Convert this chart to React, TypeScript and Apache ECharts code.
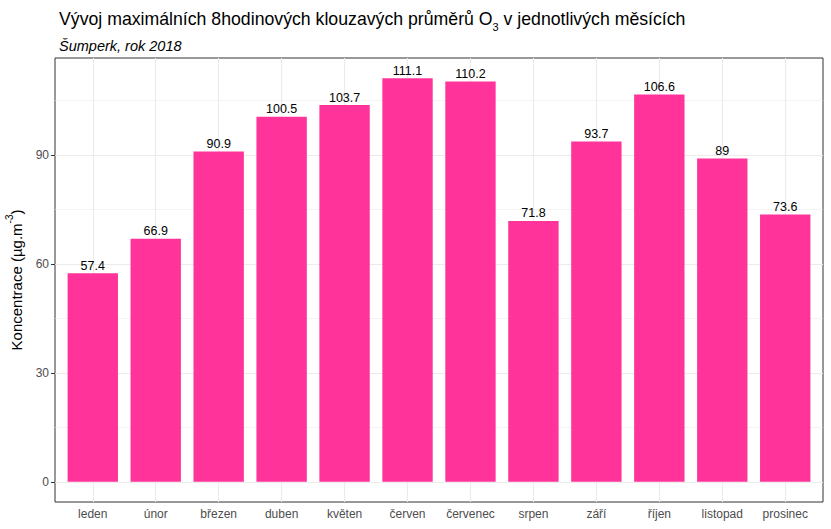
import React, { useEffect, useRef } from "react";
import * as echarts from "echarts";

const months = ["leden", "únor", "březen", "duben", "květen", "červen", "červenec", "srpen", "září", "říjen", "listopad", "prosinec"];
const values = [57.4, 66.9, 90.9, 100.5, 103.7, 111.1, 110.2, 71.8, 93.7, 106.6, 89, 73.6];
const yMajorTicks = [0, 30, 60, 90];
const yMinorTicks = [15, 45, 75, 105];
const xPositions = months.map((_, i) => i + 1);

const FONT = "Liberation Sans, Arial, sans-serif";

export default function App() {
  const ref = useRef<HTMLDivElement>(null);
  useEffect(() => {
    if (!ref.current) return;
    const chart = echarts.init(ref.current, null, { renderer: "svg" });
    const maxV = Math.max(...values);
    const yExp = maxV * 0.05;
    const gridColor = "#EBEBEB";
    chart.setOption({
      animation: false,
      backgroundColor: "#ffffff",
      textStyle: { fontFamily: FONT },
      title: [
        {
          text: "{t|Vývoj maximálních 8hodinových klouzavých průměrů O}{s|3}{t| v jednotlivých měsících}",
          left: 54,
          top: 1,
          textStyle: {
            fontWeight: "normal",
            rich: {
              t: { fontSize: 17.7, fontWeight: "normal", fontFamily: FONT, color: "#000000", lineHeight: 22, verticalAlign: "bottom" },
              s: { fontSize: 11, fontWeight: "normal", fontFamily: FONT, color: "#000000", lineHeight: 16, verticalAlign: "bottom", padding: [0, 0, -4, 0] },
            },
          },
        },
        {
          text: "Šumperk, rok 2018",
          left: 54,
          top: 33,
          textStyle: { fontSize: 14.5, fontStyle: "italic", fontWeight: "normal", fontFamily: FONT, color: "#000000" },
        },
      ],
      grid: {
        left: 55,
        top: 58,
        width: 768,
        height: 444,
        show: true,
        borderColor: "#333333",
        borderWidth: 1,
        backgroundColor: "transparent",
        outerBoundsMode: "none",
        containLabel: false,
      },
      xAxis: {
        type: "value",
        min: 0.4,
        max: months.length + 0.6,
        axisLine: { show: false },
        axisTick: { show: true, customValues: xPositions, length: 4, lineStyle: { color: "#333333" } },
        axisLabel: {
          customValues: xPositions,
          formatter: (v: number) => months[Math.round(v) - 1] ?? "",
          color: "#4D4D4D",
          fontSize: 12,
          margin: 6,
          fontFamily: FONT,
        },
        splitLine: { show: false },
      },
      yAxis: {
        type: "value",
        min: -yExp,
        max: maxV + yExp,
        axisLine: { show: false },
        axisTick: { show: true, customValues: yMajorTicks, length: 4, lineStyle: { color: "#333333" } },
        axisLabel: { customValues: yMajorTicks, color: "#4D4D4D", fontSize: 12, margin: 6, fontFamily: FONT },
        splitLine: { show: false },
        name: "{a|Koncentrace (µg.m}{s|-3}{a|)}",
        nameLocation: "middle",
        nameGap: 31,
        nameRotate: 90,
        nameTextStyle: {
          rich: {
            a: { fontSize: 15, fontFamily: FONT, color: "#000000", lineHeight: 20, verticalAlign: "bottom" },
            s: { fontSize: 10, fontFamily: FONT, color: "#000000", lineHeight: 20, verticalAlign: "top", padding: [0, 0, 6, 0] },
          },
        },
      },
      series: [
        {
          type: "bar",
          data: values.map((v, i) => [xPositions[i], v]),
          barWidth: "80%",
          itemStyle: { color: "#FF3399" },
          z: 3,
          label: {
            show: true,
            position: "top",
            distance: 1,
            color: "#000000",
            fontSize: 12.5,
            fontFamily: FONT,
            formatter: (p: any) => String(p.value[1]),
          },
          markLine: {
            silent: true,
            z: 1,
            symbol: ["none", "none"],
            label: { show: false },
            emphasis: { disabled: true },
            data: [
              ...yMinorTicks.map((v) => ({ yAxis: v, lineStyle: { color: gridColor, width: 0.6, type: "solid" } })),
              ...yMajorTicks.map((v) => ({ yAxis: v, lineStyle: { color: gridColor, width: 1.1, type: "solid" } })),
              ...xPositions.map((v) => ({ xAxis: v, lineStyle: { color: gridColor, width: 1.1, type: "solid" } })),
            ],
          },
        },
      ],
    });
    return () => chart.dispose();
  }, []);
  return (
    <div
      ref={ref}
      style={{ position: "absolute", left: 0, top: 0, width: 831, height: 529 }}
    />
  );
}
